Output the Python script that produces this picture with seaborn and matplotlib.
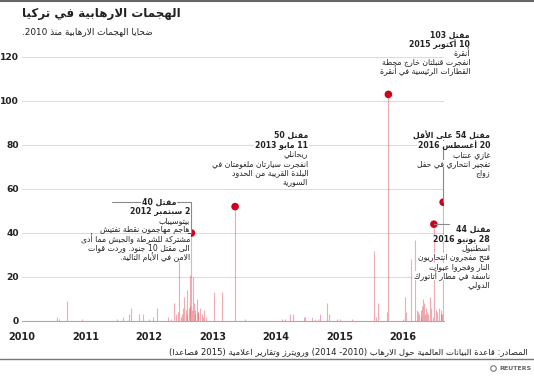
import re
import pandas as pd
import matplotlib
matplotlib.use('Agg')
import matplotlib.pyplot as plt
import matplotlib.dates as mdates
from matplotlib.lines import Line2D
from matplotlib.patches import Rectangle
import seaborn as sns

# Données : victimes des attaques (date, nombre de morts)
dates = ['2010-07-20', '2010-07-31', '2010-09-16', '2010-12-13',
         '2011-06-30', '2011-08-05', '2011-09-10', '2011-09-20', '2011-11-05', '2011-12-01',
         '2012-01-02', '2012-01-25', '2012-02-14', '2012-04-20', '2012-05-10', '2012-05-25',
         '2012-06-05', '2012-06-19', '2012-06-25', '2012-07-02', '2012-07-10', '2012-07-16',
         '2012-07-22', '2012-07-30', '2012-08-05', '2012-08-10', '2012-08-18', '2012-08-22',
         '2012-08-26', '2012-09-02', '2012-09-06', '2012-09-10', '2012-09-17', '2012-09-20',
         '2012-09-25', '2012-10-05', '2012-10-08', '2012-10-12', '2012-10-20', '2012-10-30',
         '2012-11-05', '2012-11-12', '2012-11-25', '2013-01-10', '2013-02-22', '2013-05-11',
         '2013-07-05',
         '2014-02-03', '2014-02-25', '2014-03-25', '2014-04-08', '2014-06-10', '2014-06-15',
         '2014-07-25', '2014-08-14', '2014-09-01', '2014-09-12', '2014-10-22', '2014-11-01',
         '2014-12-18', '2015-01-06', '2015-03-15', '2015-07-20', '2015-07-30', '2015-08-12',
         '2015-10-01', '2015-10-10',
         '2016-01-01', '2016-01-12', '2016-01-20', '2016-02-17', '2016-03-13', '2016-03-25',
         '2016-03-30', '2016-04-05', '2016-04-12', '2016-04-15', '2016-04-20', '2016-04-28',
         '2016-05-01', '2016-05-05', '2016-05-12', '2016-05-20', '2016-05-27', '2016-06-07',
         '2016-06-12', '2016-06-20', '2016-06-28', '2016-07-10', '2016-07-16', '2016-07-25',
         '2016-08-05', '2016-08-10', '2016-08-15', '2016-08-20']
deaths = [2, 1, 9, 1,
          1, 2, 3, 6, 3, 3,
          1, 2, 6, 2, 1, 8,
          3, 4, 28, 2, 3, 6,
          11, 5, 3, 14, 6, 7,
          21, 40, 5, 20, 8, 3,
          5, 10, 4, 4, 6, 3,
          2, 5, 2, 13, 13, 52,
          1,
          1, 1, 3, 3, 2, 2,
          2, 1, 1, 3, 8, 3,
          1, 1, 1, 32, 2, 8,
          4, 103,
          1, 11, 4, 28, 37, 5,
          4, 3, 5, 2, 7, 10,
          8, 3, 6, 4, 3, 11,
          6, 2, 44, 5, 4, 6,
          3, 5, 3, 54]

# attaques mises en avant
hl_dates = ['2012-09-02', '2013-05-11', '2015-10-10', '2016-06-28', '2016-08-20']

y_ticks = [0, 20, 40, 60, 80, 100, 120]
years = [2010, 2011, 2012, 2013, 2014, 2015, 2016]

# Textes
title = "الهجمات الارهابية في تركيا"
subtitle = "ضحايا الهجمات الارهابية منذ 2010."
source = "المصادر: قاعدة البيانات العالمية حول الارهاب (2010- 2014) ورويترز وتقارير اعلامية (2015 فصاعدا)"

note_1 = ["مقتل 40", "2 سبتمبر 2012", "بيتوسيباب", "هاجم مهاجمون نقطة تفتيش",
          "مشتركة للشرطة والجيش مما أدى", "الى مقتل 10 جنود. وردت قوات", "الامن في الأيام التالية."]
note_2 = ["مقتل 50", "11 مايو 2013", "ريحانلي", "انفجرت سيارتان ملغومتان في",
          "البلدة القريبة من الحدود", "السورية"]
note_3 = ["مقتل 103", "10 أكتوبر 2015", "أنقرة", "انفجرت قنبلتان خارج محطة",
          "القطارات الرئيسية في أنقرة"]
note_4 = ["مقتل 54 على الأقل", "20 أغسطس 2016", "غازي عنتاب", "تفجير انتحاري في حفل", "زواج"]
note_5 = ["مقتل 44", "28 يونيو 2016", "اسطنبول", "فتح مفجرون انتحاريون",
          "النار وفجروا عبوات", "ناسفة في مطار أتاتورك", "الدولي."]

# matplotlib ne fait pas le shaping arabe : formes de présentation + ordre visuel
TWO = {'\u0622': 0xFE81, '\u0623': 0xFE83, '\u0624': 0xFE85, '\u0625': 0xFE87, '\u0627': 0xFE8D,
       '\u0629': 0xFE93, '\u062F': 0xFEA9, '\u0630': 0xFEAB, '\u0631': 0xFEAD, '\u0632': 0xFEAF,
       '\u0648': 0xFEED, '\u0649': 0xFEEF}
FOUR = {'\u0626': 0xFE89, '\u0628': 0xFE8F, '\u062A': 0xFE95, '\u062B': 0xFE99, '\u062C': 0xFE9D,
        '\u062D': 0xFEA1, '\u062E': 0xFEA5, '\u0633': 0xFEB1, '\u0634': 0xFEB5, '\u0635': 0xFEB9,
        '\u0636': 0xFEBD, '\u0637': 0xFEC1, '\u0638': 0xFEC5, '\u0639': 0xFEC9, '\u063A': 0xFECD,
        '\u0641': 0xFED1, '\u0642': 0xFED5, '\u0643': 0xFED9, '\u0644': 0xFEDD, '\u0645': 0xFEE1,
        '\u0646': 0xFEE5, '\u0647': 0xFEE9, '\u064A': 0xFEF1}
LAM_ALEF = {'\u0622': 0xFEF5, '\u0623': 0xFEF7, '\u0625': 0xFEF9, '\u0627': 0xFEFB}
MIRROR = str.maketrans('()', ')(')


def shape(s):
    seq, i = [], 0
    while i < len(s):
        if s[i] == '\u0644' and i + 1 < len(s) and s[i + 1] in LAM_ALEF:
            seq.append(('LA', s[i + 1]))
            i += 2
        else:
            seq.append(s[i])
            i += 1
    joins_prev = lambda c: isinstance(c, tuple) or c in TWO or c in FOUR
    out = []
    for k, c in enumerate(seq):
        prev_j = k > 0 and isinstance(seq[k - 1], str) and seq[k - 1] in FOUR
        if isinstance(c, tuple):
            out.append(chr(LAM_ALEF[c[1]] + prev_j))
        elif c in FOUR:
            next_j = k + 1 < len(seq) and joins_prev(seq[k + 1])
            idx = 3 if (prev_j and next_j) else 1 if prev_j else 2 if next_j else 0
            out.append(chr(FOUR[c] + idx))
        elif c in TWO:
            out.append(chr(TWO[c] + prev_j))
        elif c == '\u0621':
            out.append('\uFE80')
        else:
            out.append(c)
    return ''.join(out)


def ar(s):
    runs = re.findall(r'\d+(?:[.,]\d+)*|\D+', shape(s))
    return ''.join(r if r[0].isdigit() else r[::-1].translate(MIRROR) for r in reversed(runs))


df = pd.DataFrame({'date': pd.to_datetime(dates), 'deaths': deaths})
df_hl = df[df['date'].isin(pd.to_datetime(hl_dates))]

# Figure
sns.set_theme(style='white')
plt.rcParams['font.family'] = ['DejaVu Sans']
W, H = 534, 378
fig = plt.figure(figsize=(W / 100, H / 100), dpi=100)
ax = fig.add_axes([22 / W, 1 - 321 / H, 422 / W, 264 / H])

ax.vlines(df['date'], 0, df['deaths'], color='#e25a66', alpha=0.5, lw=0.8, zorder=2)
sns.scatterplot(data=df_hl, x='date', y='deaths', color='#d0021b', s=30,
                edgecolor='none', ax=ax, zorder=5)

ax.set_xlim(pd.Timestamp('2010-01-01'), pd.Timestamp('2016-08-25'))
ax.set_ylim(0, 120)
ax.set_yticks(y_ticks)
ax.set_xticks([pd.Timestamp(f'{y}-01-01') for y in years])
ax.xaxis.set_major_formatter(mdates.DateFormatter('%Y'))
ax.set_xlabel('')
ax.set_ylabel('')
ax.yaxis.grid(True, color='#dcdcdc', lw=0.8)
ax.set_axisbelow(True)
for side in ['left', 'top', 'right']:
    ax.spines[side].set_visible(False)
ax.spines['bottom'].set_color('#aaaaaa')
ax.spines['bottom'].set_linewidth(0.8)
ax.tick_params(axis='x', length=4, width=0.8, color='#888888', pad=4, labelsize=7, labelcolor='#222222')
ax.tick_params(axis='y', length=0, pad=2, labelsize=6.6, labelcolor='#222222')
for lab in ax.get_xticklabels() + ax.get_yticklabels():
    lab.set_fontweight('bold')


def to_px(d, v):
    x, y = ax.transData.transform((mdates.date2num(pd.Timestamp(d)), v))
    return x, H - y


def leader(points):
    xs = [p[0] / W for p in points]
    ys = [1 - p[1] / H for p in points]
    fig.add_artist(Line2D(xs, ys, color='#8a8a8a', lw=0.8, zorder=2))


note_texts = []


def bloc(lines, x_right, y_first, lh, x_first=None):
    for k, line in enumerate(lines):
        xr = x_first if (k == 0 and x_first) else x_right
        t = fig.text(xr / W, 1 - (y_first + k * lh) / H, ar(line), ha='right', va='center',
                     fontsize=5.6, fontweight='bold' if k < 2 else 'normal',
                     color='#222222', zorder=4)
        note_texts.append(t)


# lignes de rappel
x1, y1 = to_px('2012-09-02', 40)
leader([(112, 202), (x1, 202), (x1, y1)])
x4, y4 = to_px('2016-08-20', 54)
leader([(x4, y4), (x4, 137), (449, 137)])
x5, y5 = to_px('2016-06-28', 44)
leader([(x5, y5), (449, y5)])

bloc(note_1, 190, 202, 9.2, x_first=176)
bloc(note_2, 308, 135, 9.4)
bloc(note_3, 470, 35, 9.0)
bloc(note_4, 490, 136, 9.2)
bloc(note_5, 490, 229, 9.3)

# fonds blancs sous les notes (cachent la grille)
fig.canvas.draw()
inv = fig.transFigure.inverted()
for t in note_texts:
    bb = t.get_window_extent()
    (fx0, fy0), (fx1, fy1) = inv.transform([(bb.x0 - 1, bb.y0 + 1), (bb.x1 + 1, bb.y1 - 1)])
    fig.add_artist(Rectangle((fx0, fy0), fx1 - fx0, fy1 - fy0, transform=fig.transFigure,
                             facecolor='white', edgecolor='none', zorder=3))

# titres, source, filets
fig.text(22 / W, 1 - 13 / H, ar(title), ha='left', va='center', fontsize=8.6,
         fontweight='bold', color='#222222')
fig.text(22 / W, 1 - 32 / H, ar(subtitle), ha='left', va='center', fontsize=6.4, color='#222222')
fig.text(528 / W, 1 - 352 / H, ar(source), ha='right', va='center', fontsize=6.1, color='#222222')
fig.add_artist(Line2D([0, 1], [1 - 1.2 / H] * 2, color='#666666', lw=1.5))
fig.add_artist(Line2D([0, 1], [1 - 359 / H] * 2, color='#777777', lw=1.0))
fig.text(532 / W, 1 - 368 / H, 'REUTERS', ha='right', va='center', fontsize=4.5,
         fontweight='bold', color='#666666')
fig.add_artist(Line2D([493 / W], [1 - 368 / H], marker='o', ms=4, mfc='none', mec='#777777', mew=0.8))

plt.savefig('out.png', dpi=100)
